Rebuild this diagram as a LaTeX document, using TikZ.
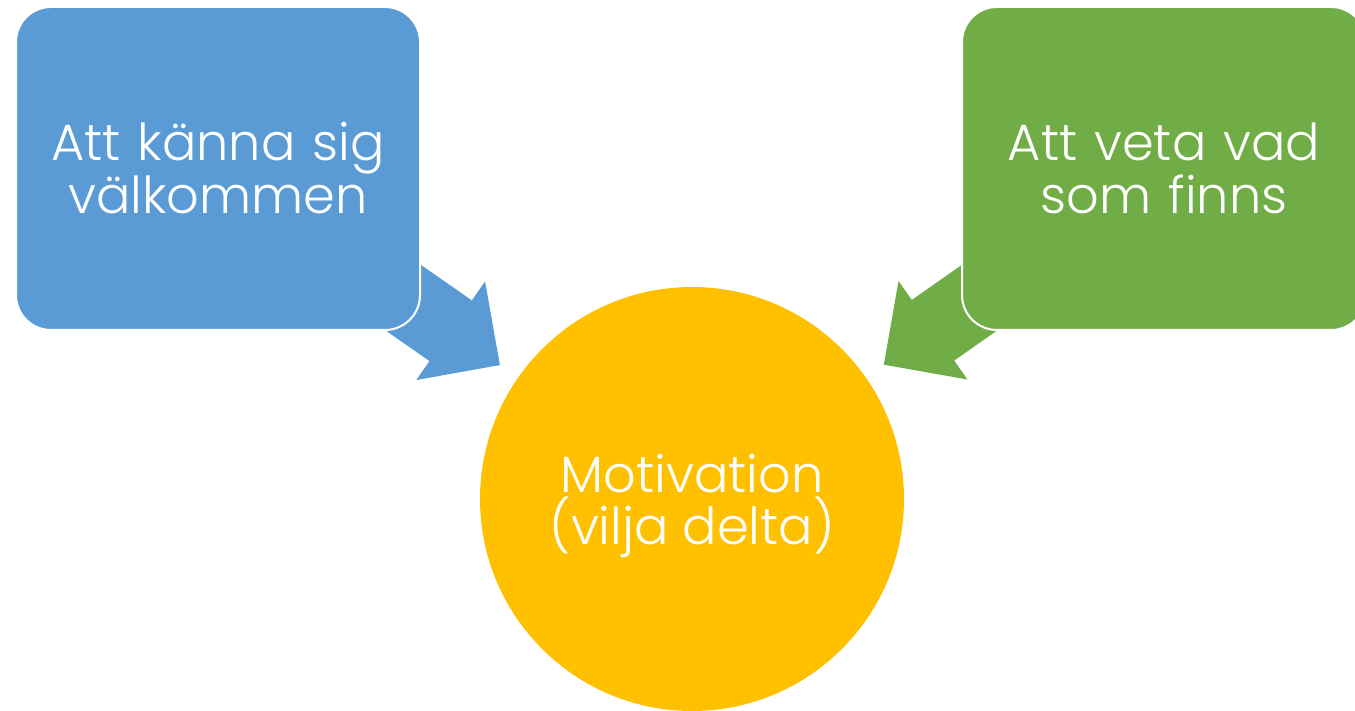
\documentclass[tikz,border=0pt]{standalone}
\usepackage{fontspec}
\setmainfont{Poppins}[UprightFont=* Light]
\usetikzlibrary{arrows.meta,backgrounds}
\definecolor{boxblue}{RGB}{91,155,213}
\definecolor{boxgreen}{RGB}{112,173,71}
\definecolor{circgold}{RGB}{255,192,0}
\begin{document}
\begin{tikzpicture}[x=1pt,y=-1pt,
    card/.style={rounded corners=35pt, draw=white, line width=2pt, minimum width=404pt,
      minimum height=323pt, text width=380pt, align=center, text=white,
      font=\fontsize{51}{53}\selectfont},
    goal/.style={circle, minimum size=424pt, inner sep=0pt, text=white, align=center,
      text depth=0pt, font=\fontsize{51}{52}\selectfont},
    push/.style={line width=74pt, shorten >=22pt,
      -{Triangle[length=60pt,width=120pt,line width=1pt]}}]
    \useasboundingbox (0,0) rectangle (1355,711);
    \node[card, fill=boxblue] (welcome) at (218,168.5) {Att känna sig\\välkommen};
    \node[card, fill=boxgreen] (know) at (1164,168.5) {Att veta vad\\som finns};
    \node[goal, fill=circgold] (motiv) at (692,499) {Motivation\\(vilja delta)};
    \begin{scope}[on background layer]
        \draw[push, boxblue] (welcome.center) -- (motiv);
        \draw[push, boxgreen] (know.center) -- (motiv);
    \end{scope}
\end{tikzpicture}
\end{document}
